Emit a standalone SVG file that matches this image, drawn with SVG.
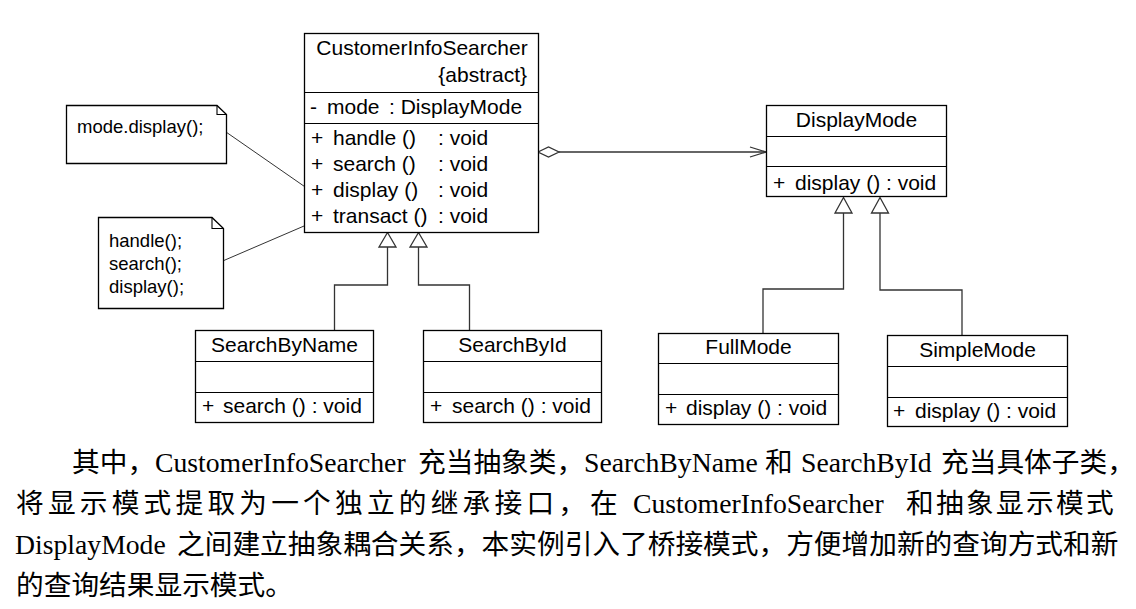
<svg xmlns="http://www.w3.org/2000/svg" width="1136" height="609" viewBox="0 0 1136 609">
<style>
.box{fill:#fff;stroke:#000;stroke-width:1.3}
.sep{stroke:#000;stroke-width:1.2}
.t{font-family:"Liberation Sans",Arial,sans-serif;font-size:21px;fill:#000}
.n{font-family:"Liberation Sans",Arial,sans-serif;font-size:18.5px;fill:#000}
.c{fill:none;stroke:#333;stroke-width:1.3}
.tri{fill:#fff;stroke:#333;stroke-width:1.3}
.p{font-family:"Liberation Serif","Times New Roman","Noto Sans CJK SC",serif;font-size:27.7px;fill:#000}
.cj{font-family:"Noto Sans CJK SC",sans-serif;font-size:27.7px}
</style>
<rect width="1136" height="609" fill="#fff"/>

<g id="connectors">
  <!-- aggregation -->
  <line class="c" x1="559" y1="152" x2="766" y2="152"/>
  <polygon class="tri" points="538,152 548.5,147 559,152 548.5,157"/>
  <polyline class="c" points="750,147 766,152 750,157"/>
  <!-- SearchByName -> CustomerInfoSearcher -->
  <polyline class="c" points="334.5,330 334.5,285 387.5,285 387.5,247"/>
  <polygon class="tri" points="387.5,232.5 379,247 396,247"/>
  <!-- SearchById -> CustomerInfoSearcher -->
  <polyline class="c" points="469.5,330 469.5,285 418.5,285 418.5,247"/>
  <polygon class="tri" points="418.5,232.5 410,247 427,247"/>
  <!-- FullMode -> DisplayMode -->
  <polyline class="c" points="763,333 763,289 843.5,289 843.5,213"/>
  <polygon class="tri" points="843.5,197.5 835,213 852,213"/>
  <!-- SimpleMode -> DisplayMode -->
  <polyline class="c" points="962,335 962,290 880,290 880,213"/>
  <polygon class="tri" points="880,197.5 871.5,213 888.5,213"/>
  <!-- note anchors -->
  <line x1="226" y1="132" x2="311" y2="191" stroke="#333" stroke-width="1"/>
  <line x1="218" y1="263" x2="318" y2="220" stroke="#333" stroke-width="1"/>
</g>

<g id="CustomerInfoSearcher">
  <rect class="box" x="304.5" y="33.5" width="234" height="199"/>
  <line class="sep" x1="304.5" y1="92.5" x2="538.5" y2="92.5"/>
  <line class="sep" x1="304.5" y1="123.5" x2="538.5" y2="123.5"/>
  <text class="t" x="422" y="55" text-anchor="middle">CustomerInfoSearcher</text>
  <text class="t" x="527" y="82" text-anchor="end">{abstract}</text>
  <text class="t" x="310" y="114">-</text>
  <text class="t" x="327" y="114">mode</text>
  <text class="t" x="389" y="114">: DisplayMode</text>
  <text class="t" x="311" y="145">+</text><text class="t" x="333" y="145">handle ()</text><text class="t" x="438" y="145">: void</text>
  <text class="t" x="311" y="171">+</text><text class="t" x="333" y="171">search ()</text><text class="t" x="438" y="171">: void</text>
  <text class="t" x="311" y="197">+</text><text class="t" x="333" y="197">display ()</text><text class="t" x="438" y="197">: void</text>
  <text class="t" x="311" y="223">+</text><text class="t" x="333" y="223">transact ()</text><text class="t" x="438" y="223">: void</text>
</g>

<g id="DisplayMode">
  <rect class="box" x="766.5" y="105.5" width="180" height="91"/>
  <line class="sep" x1="766.5" y1="136.5" x2="946.5" y2="136.5"/>
  <line class="sep" x1="766.5" y1="166.5" x2="946.5" y2="166.5"/>
  <text class="t" x="856.5" y="127" text-anchor="middle">DisplayMode</text>
  <text class="t" x="773" y="190">+</text><text class="t" x="795" y="190">display () : void</text>
</g>

<g id="SearchByName">
  <rect class="box" x="195.5" y="330.5" width="178" height="92"/>
  <line class="sep" x1="195.5" y1="361.5" x2="373.5" y2="361.5"/>
  <line class="sep" x1="195.5" y1="392.5" x2="373.5" y2="392.5"/>
  <text class="t" x="284.5" y="352" text-anchor="middle">SearchByName</text>
  <text class="t" x="202" y="413">+</text><text class="t" x="223" y="413">search () : void</text>
</g>

<g id="SearchById">
  <rect class="box" x="423.5" y="330.5" width="178" height="92"/>
  <line class="sep" x1="423.5" y1="361.5" x2="601.5" y2="361.5"/>
  <line class="sep" x1="423.5" y1="392.5" x2="601.5" y2="392.5"/>
  <text class="t" x="512.5" y="352" text-anchor="middle">SearchById</text>
  <text class="t" x="430" y="413">+</text><text class="t" x="452" y="413">search () : void</text>
</g>

<g id="FullMode">
  <rect class="box" x="658.5" y="333.5" width="180" height="91"/>
  <line class="sep" x1="658.5" y1="363.5" x2="838.5" y2="363.5"/>
  <line class="sep" x1="658.5" y1="394.5" x2="838.5" y2="394.5"/>
  <text class="t" x="748.5" y="354" text-anchor="middle">FullMode</text>
  <text class="t" x="665" y="415">+</text><text class="t" x="686" y="415">display () : void</text>
</g>

<g id="SimpleMode">
  <rect class="box" x="887.5" y="335.5" width="180" height="91"/>
  <line class="sep" x1="887.5" y1="366.5" x2="1067.5" y2="366.5"/>
  <line class="sep" x1="887.5" y1="397.5" x2="1067.5" y2="397.5"/>
  <text class="t" x="977.5" y="357" text-anchor="middle">SimpleMode</text>
  <text class="t" x="893" y="418">+</text><text class="t" x="915" y="418">display () : void</text>
</g>

<g id="note1">
  <polygon class="box" points="66.5,105.5 217,105.5 226.5,114.5 226.5,163.5 66.5,163.5"/>
  <polyline fill="none" stroke="#000" stroke-width="1.1" points="217,105.5 217,114.5 226.5,114.5"/>
  <text class="n" x="77" y="133">mode.display();</text>
</g>

<g id="note2">
  <polygon class="box" points="98.5,217.5 212,217.5 223.5,228.5 223.5,308.5 98.5,308.5"/>
  <polyline fill="none" stroke="#000" stroke-width="1.1" points="212,217.5 212,228.5 223.5,228.5"/>
  <text class="n" x="109" y="247">handle();</text>
  <text class="n" x="109" y="270">search();</text>
  <text class="n" x="109" y="293">display();</text>
</g>

<g id="paragraph">
  <text class="p" y="472"><tspan class="cj" x="72">其中，</tspan><tspan x="155">CustomerInfoSearcher</tspan><tspan class="cj" x="418">充当抽象类，</tspan><tspan x="584">SearchByName</tspan><tspan class="cj" x="765">和</tspan><tspan x="801">SearchById</tspan><tspan class="cj" x="941">充当具体子类，</tspan></text>
  <text class="p" y="513"><tspan class="cj" x="16 47.9 79.8 111.7 143.6 175.5 207.4 239.3 271.2 303.1 335 366.9 398.8 430.7 462.6 494.5 526.4 558.3">将显示模式提取为一个独立的继承接口，</tspan><tspan class="cj" x="590">在</tspan><tspan x="633">CustomerInfoSearcher</tspan><tspan class="cj" x="906 936 966 996 1026 1056 1086">和抽象显示模式</tspan></text>
  <text class="p" y="554"><tspan x="15">DisplayMode</tspan><tspan class="cj" x="177">之间建立抽象耦合关系，本实例引入了桥接模式，方便增加新的查询方式和新</tspan></text>
  <text class="p" y="595"><tspan class="cj" x="16">的查询结果显示模式。</tspan></text>
</g>
</svg>
